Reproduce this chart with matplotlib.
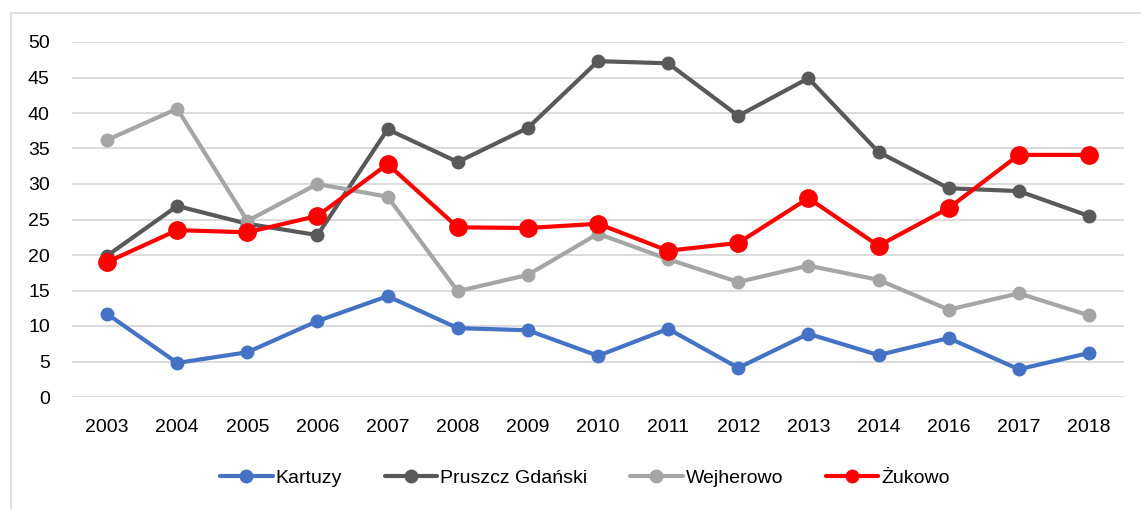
import matplotlib
matplotlib.use("Agg")
import matplotlib.pyplot as plt
from matplotlib.patches import Rectangle
from matplotlib import font_manager

years = ["2003", "2004", "2005", "2006", "2007", "2008", "2009", "2010",
         "2011", "2012", "2013", "2014", "2016", "2017", "2018"]
kartuzy = [11.7, 4.8, 6.3, 10.7, 14.2, 9.7, 9.4, 5.8, 9.6, 4.1, 8.9, 5.9, 8.3, 3.9, 6.2]
pruszcz = [19.9, 26.9, 24.4, 22.8, 37.7, 33.1, 37.9, 47.3, 47.0, 39.6, 44.9, 34.5, 29.4, 29.0, 25.5]
wejherowo = [36.2, 40.6, 24.8, 30.0, 28.2, 14.9, 17.2, 23.0, 19.4, 16.2, 18.5, 16.5, 12.3, 14.6, 11.5]
zukowo = [19.0, 23.5, 23.2, 25.5, 32.8, 23.9, 23.8, 24.4, 20.6, 21.7, 28.0, 21.3, 26.6, 34.1, 34.1]
series_names = ["Kartuzy", "Pruszcz Gdański", "Wejherowo", "Żukowo"]
yticks = [0, 5, 10, 15, 20, 25, 30, 35, 40, 45, 50]

names = {f.name for f in font_manager.fontManager.ttflist}
fam = "Liberation Sans Narrow" if "Liberation Sans Narrow" in names else "Liberation Sans"
plt.rcParams["font.family"] = [fam, "DejaVu Sans"]

fig = plt.figure(figsize=(11.41, 5.09), dpi=100)
ax = fig.add_axes([72/1141, 1-397/509, (1124-72)/1141, (397-42)/509])

x = list(range(len(years)))
styles = [
    (kartuzy, "#4472C4", 9),
    (pruszcz, "#595959", 9),
    (wejherowo, "#A5A5A5", 9),
    (zukowo, "#FF0000", 12.5),
]
for (vals, col, ms), name in zip(styles, series_names):
    ax.plot(x, vals, color=col, lw=3, marker="o", ms=ms, label=name,
            solid_capstyle="round", zorder=3)

ax.set_xlim(-0.5, len(years) - 0.5)
ax.set_ylim(0, 50)
ax.set_yticks(yticks)
ax.set_xticks(x)
ax.set_xticklabels(years)
ax.yaxis.grid(True, color="#D9D9D9", lw=1.3)
ax.set_axisbelow(True)
for s in ax.spines.values():
    s.set_visible(False)
ax.tick_params(axis="both", length=0, labelsize=14, colors="#000000")
ax.tick_params(axis="x", pad=16)
ax.tick_params(axis="y", pad=16)

leg = fig.legend(loc="center", bbox_to_anchor=(585/1141, 1-478/509), ncol=4,
                 frameon=False, fontsize=14, handlelength=2.7, columnspacing=2.2,
                 handletextpad=0.15)
for h in leg.legend_handles:
    h.set_markersize(9)

fig.patches.append(Rectangle((11/1141, -0.1), 1.2, 1-12.5/509+0.1,
                             transform=fig.transFigure, fill=False,
                             edgecolor="#D9D9D9", lw=1.2))

fig.savefig("out.png", dpi=100)
